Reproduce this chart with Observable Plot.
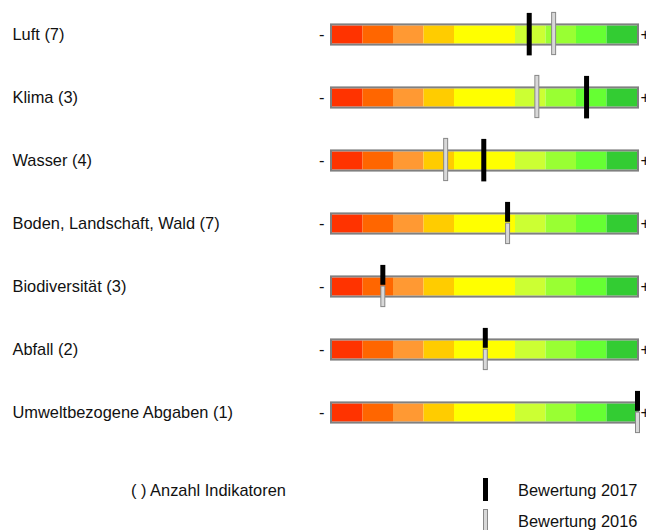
<!DOCTYPE html>
<html>
<head>
<meta charset="utf-8">
<script src="https://cdn.jsdelivr.net/npm/d3@7"></script>
<script src="https://cdn.jsdelivr.net/npm/@observablehq/plot@0.6"></script>
<style>
  html, body { margin: 0; padding: 0; background: #fff; }
  body { width: 646px; height: 530px; overflow: hidden; font-family: "Liberation Sans", Arial, sans-serif; }
  #legend { position: relative; height: 83px; font-size: 16.4px; color: #111; }
  #legend .t { position: absolute; line-height: 19px; white-space: nowrap; }
  #legend .sw { position: absolute; box-sizing: border-box; }
</style>
</head>
<body>
<div id="chart"></div>
<div id="legend">
  <div class="t" style="left:131px; top:33.5px;">( ) Anzahl Indikatoren</div>
  <div class="sw" style="left:483px; top:31px; width:5px; height:23px; background:#000;"></div>
  <div class="t" style="left:518px; top:33.5px;">Bewertung 2017</div>
  <div class="sw" style="left:483px; top:62px; width:5px; height:24px; background:#d8d8d8; border:1px solid #888;"></div>
  <div class="t" style="left:518px; top:65px;">Bewertung 2016</div>
</div>
<script>
const categories = [
  "Luft (7)",
  "Klima (3)",
  "Wasser (4)",
  "Boden, Landschaft, Wald (7)",
  "Biodiversität (3)",
  "Abfall (2)",
  "Umweltbezogene Abgaben (1)"
];
const rating2017 = [6.45, 8.33, 4.96, 5.74, 1.65, 5.01, 10.0];
const rating2016 = [7.25, 6.70, 3.71, 5.74, 1.65, 5.01, 10.0];

const segmentStart = [0, 1, 2, 3, 4, 6, 7, 8, 9];
const segmentEnd   = [1, 2, 3, 4, 6, 7, 8, 9, 10];
const segmentColor = ["#FF3300", "#FF6600", "#FF9933", "#FFCC00", "#FFFF00", "#CCFF33", "#99FF33", "#66FF33", "#33CC33"];

const rows = categories.map((c, i) => ({category: c, v2017: rating2017[i], v2016: rating2016[i]}));
const segments = [];
for (const c of categories) {
  segmentStart.forEach((s, j) => segments.push({category: c, x1: s, x2: segmentEnd[j], color: segmentColor[j]}));
}
const diff = rows.filter(d => d.v2017 !== d.v2016);
const same = rows.filter(d => d.v2017 === d.v2016);

const chart = Plot.plot({
  width: 646,
  height: 447,
  marginTop: 0,
  marginBottom: 0,
  marginLeft: 332,
  marginRight: 9,
  style: {fontFamily: "'Liberation Sans', Arial, sans-serif", fontSize: "16.4px", color: "#111", background: "#fff", overflow: "visible"},
  x: {domain: [0, 10], axis: null},
  y: {domain: categories, type: "band", padding: 0, axis: null},
  marks: [
    // row labels
    Plot.text(categories, {y: d => d, frameAnchor: "left", textAnchor: "start", dx: -320, text: d => d, fill: "#111", fontSize: 16.4}),
    // minus / plus signs
    Plot.text(categories, {y: d => d, x: () => 0, text: () => "-", textAnchor: "end", dx: -8, fill: "#111", fontSize: 16.4}),
    Plot.text(categories, {y: d => d, x: () => 10, text: () => "+", textAnchor: "start", dx: 3, fill: "#111", fontSize: 16.4}),
    // coloured scale
    Plot.rect(segments, {x1: "x1", x2: "x2", y: "category", fill: "color", insetTop: 22.4, insetBottom: 22.4}),
    // border
    Plot.rect(categories, {x1: () => 0, x2: () => 10, y: d => d, fill: "none", stroke: "#808080", strokeWidth: 2, insetTop: 21.4, insetBottom: 21.4, insetLeft: -1, insetRight: -1}),
    // different values: full-height markers
    Plot.tickX(diff, {x: "v2016", y: "category", stroke: "#888", strokeWidth: 5, insetTop: 8.9, insetBottom: 10.9}),
    Plot.tickX(diff, {x: "v2016", y: "category", stroke: "#d8d8d8", strokeWidth: 3, insetTop: 9.9, insetBottom: 11.9}),
    Plot.tickX(diff, {x: "v2017", y: "category", stroke: "#000", strokeWidth: 5, insetTop: 9.9, insetBottom: 10.6}),
    // equal values: black on upper half, grey on lower half
    Plot.tickX(same, {x: "v2016", y: "category", stroke: "#888", strokeWidth: 5, insetTop: 30.6, insetBottom: 10.9}),
    Plot.tickX(same, {x: "v2016", y: "category", stroke: "#d8d8d8", strokeWidth: 3, insetTop: 31.6, insetBottom: 11.9}),
    Plot.tickX(same, {x: "v2017", y: "category", stroke: "#000", strokeWidth: 5, insetTop: 9.9, insetBottom: 33.2})
  ]
});
document.getElementById("chart").appendChild(chart);
</script>
</body>
</html>
